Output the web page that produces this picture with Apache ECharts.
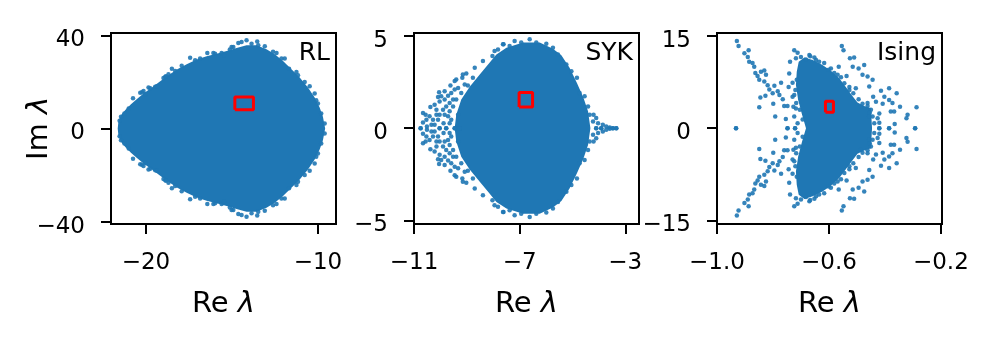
<!DOCTYPE html>
<html><head><meta charset="utf-8">
<style>html,body{margin:0;padding:0;background:#fff}#c{width:998px;height:345px}</style>
<script src="https://cdn.jsdelivr.net/npm/echarts@6/dist/echarts.min.js"></script>
</head><body><div id="c"></div>
<script>
// Values. Spectra are mirror-symmetric in Im, so upper halves are listed.
const panelNames = ['RL','SYK','Ising'];
const xTicks = [[-20,-10],[-11,-7,-3],[-1,-0.6,-0.2]];
const xTickLabels = [['−20','−10'],['−11','−7','−3'],['−1.0','−0.6','−0.2']];
const yTicks = [[-40,0,40],[-5,0,5],[-15,0,15]];
const yTickLabels = [['−40','0','40'],['−5','0','5'],['−15','0','15']];

// dense core outlines [Re, Im]
const rlCore = [[-21.64,0],[-21.6,2.9],[-21.45,5.7],[-21.2,7.9],[-20.87,10.4],[-20.52,12.7],[-20.14,15],[-19.65,17.6],[-19.17,20.3],[-18.69,22.9],[-18.2,25.3],[-17.63,27.6],[-17.05,29.6],[-16.47,31],[-15.89,32.1],[-15.31,33.3],[-14.73,34.6],[-14.15,35.7],[-13.57,35.7],[-12.99,34],[-12.51,31.9],[-12.03,29],[-11.54,25.4],[-11.06,21.9],[-10.58,17.6],[-10.19,13.3],[-9.9,9],[-9.71,5],[-9.58,0]];
const sykCore = [[-9.46,0],[-9.4,0.73],[-9.21,1.55],[-8.89,2.24],[-8.51,2.91],[-8.14,3.55],[-7.88,4],[-7.5,4.36],[-6.87,4.64],[-6.24,4.64],[-5.74,4.31],[-5.42,3.95],[-5.11,3.27],[-4.83,2.45],[-4.58,1.64],[-4.41,0.91],[-4.32,0]];
const isingCore = [[-0.682,0],[-0.696,2.17],[-0.71,4.6],[-0.718,7.04],[-0.715,9.2],[-0.708,10.83],[-0.688,11.53],[-0.658,11.1],[-0.623,10.29],[-0.593,9.37],[-0.563,8.12],[-0.539,6.66],[-0.519,5.41],[-0.498,4.17],[-0.474,3.63],[-0.45,3.25],[-0.446,0]];

// individually visible points [Re, Im]
const rlPoints = [[-21.53,3.3],[-21.45,5],[-21.25,6.4],[-21,8.6],[-20.75,13],[-20.23,15.6],[-20.04,14.7],[-19.75,17.3],[-19.46,17.9],[-18.88,22.1],[-18.49,25.7],[-18.69,23.3],[-17.92,26.9],[-17.43,30.4],[-17.14,29.3],[-16.43,32.4],[-15.98,32.1],[-15.6,32.4],[-15.12,33.9],[-14.92,35],[-14.44,37.1],[-14.15,37.9],[-13.53,37.3],[-13.09,35.3],[-12.61,32.9],[-12.12,30],[-11.68,25.7],[-11.16,22.9],[-10.48,18.1],[-10.1,12.1],[-9.81,6.4],[-9.61,2.1],[-20.33,15.3],[-20.14,16.1],[-19.85,17.6],[-19.36,18.1],[-18.98,21.7],[-18.84,22.4],[-18.3,24.7],[-16.85,30],[-16.08,32.4],[-15.46,31.4],[-15.02,35],[-14.63,36.7],[-13.86,36.4],[-13.47,35.7],[-12.41,32.4],[-11.93,30],[-11.25,24.3],[-10.77,20],[-10.19,15],[-10,10.7]];
const sykPoints = [[-10.75,0],[-10.66,0.82],[-10.66,0.31],[-10.38,1.15],[-10.22,1.27],[-10.05,1.95],[-10.09,1.69],[-10.03,1.45],[-9.84,1.55],[-9.71,1.76],[-9.62,2.31],[-9.4,2.64],[-9.17,2.73],[-9.02,2.96],[-8.7,3.27],[-8.39,3.64],[-8.03,3.91],[-7.95,4.18],[-7.61,4.55],[-7.19,4.73],[-6.62,4.82],[-5.99,4.58],[-5.55,4],[-4.83,2.73],[-4.54,1.73],[-10.53,0.45],[-10.41,0.64],[-10.03,0.73],[-9.9,1],[-10.34,0.18],[-10.03,0],[-9.71,0.64],[-9.52,1.18],[-9.65,0.27],[-9.4,1.55],[-9.21,1.91],[-8.96,2.31],[-8.77,2.73],[-9.46,2.09],[-9.78,1.18],[-9.33,0.73],[-9.27,0],[-9.46,0],[-10.28,0.45],[-4.2,0.73],[-4.1,0.55],[-4.22,0.36],[-4.03,0.27],[-3.85,0.18],[-4.1,0],[-3.91,0],[-3.72,0.09],[-3.59,0.04],[-3.47,0],[-3.34,0],[-10.56,0.73],[-10.15,1],[-10.15,0.73],[-9.84,0.73],[-9.65,0.91],[-10.51,0.09],[-10.22,0.18],[-9.88,0.27],[-10.09,0.45],[-9.78,0],[-9.59,0.45],[-9.52,1.55],[-9.65,1.36],[-9.59,1.91],[-9.33,2.18],[-9.08,2.36],[-9.15,2.91],[-9.46,2.55],[-9.84,2],[-9.97,1.73],[-7.82,4.27],[-7.63,4.55],[-7.38,4.45],[-6.94,4.64],[-6.37,4.64],[-5.74,4.36],[-5.23,3.45],[-5.04,3.09],[-4.73,1.91],[-4.41,1.18],[-4.35,0.73]];
const isingPoints = [[-0.929,14.2],[-0.923,13.4],[-0.902,12.2],[-0.887,12.7],[-0.89,11.6],[-0.885,10.8],[-0.873,10.6],[-0.867,10],[-0.863,9],[-0.855,8.5],[-0.843,9.2],[-0.831,9.4],[-0.825,8.7],[-0.849,7.9],[-0.831,7.6],[-0.819,7],[-0.813,6.3],[-0.795,6.9],[-0.771,7.4],[-0.801,5.7],[-0.783,6],[-0.777,5.4],[-0.765,4.7],[-0.76,3.6],[-0.748,3.6],[-0.845,5],[-0.827,5.3],[-0.849,3.4],[-0.799,4],[-0.792,1.9],[-0.754,1.5],[-0.748,0],[-0.932,0],[-0.724,12.7],[-0.712,12.3],[-0.739,10.8],[-0.718,11.4],[-0.7,11.6],[-0.742,8.9],[-0.73,7.4],[-0.744,6.7],[-0.724,5.4],[-0.718,3.2],[-0.724,1.9],[-0.721,0],[-0.712,0.8],[-0.667,11.7],[-0.646,11.1],[-0.601,9.5],[-0.565,10],[-0.569,8.7],[-0.537,8.5],[-0.527,6.2],[-0.504,6.5],[-0.554,13.4],[-0.548,12.7],[-0.525,11.4],[-0.51,11.5],[-0.515,10],[-0.494,9.7],[-0.474,10.3],[-0.48,8.7],[-0.462,8.4],[-0.444,7.9],[-0.456,6.8],[-0.414,6.1],[-0.442,5.1],[-0.432,4.3],[-0.402,5.1],[-0.385,6.5],[-0.358,5.7],[-0.385,4.6],[-0.373,4.1],[-0.346,3.5],[-0.379,2.7],[-0.367,2.7],[-0.408,4],[-0.486,3.5],[-0.462,4.1],[-0.45,3],[-0.42,2.4],[-0.42,0.9],[-0.365,0.7],[-0.385,0],[-0.319,2.2],[-0.323,1.6],[-0.287,3.4],[-0.292,0],[-0.42,0],[-0.438,0.8],[-0.456,1.9],[-0.426,1.6],[-0.682,11.2],[-0.67,11.9],[-0.652,11.5],[-0.635,10.8],[-0.617,10.6],[-0.593,9.7],[-0.581,9],[-0.557,8.3],[-0.545,7.3],[-0.527,6.7],[-0.513,5.7],[-0.494,4.7],[-0.48,4],[-0.462,3.6],[-0.454,2.5],[-0.444,1.9],[-0.715,7.9],[-0.72,6.2],[-0.717,4.1],[-0.704,3],[-0.694,1.4],[-0.727,3.5],[-0.73,5.1]];

// red boxes [Re min, Re max, Im min, Im max]
const redBoxes = [[-14.83,-13.75,8,13.5],[-7.02,-6.51,1.14,1.93],[-0.6125,-0.584,2.58,4.37]];

const coreOutlines = [rlCore,sykCore,isingCore];
const pointLists = [rlPoints,sykPoints,isingPoints];
const xRanges = [[-22.03,-8.95],[-11,-2.48],[-1,-0.196]];
const yRanges = [[-41,41],[-5.2,5.16],[-15.6,15.5]];
const lefts = [111,414,717];
const blue = '#1f77b4';
const font = 'DejaVu Sans';

const mirror = a => a.concat(a.map(p => [p[0], -p[1]]));
const outline = a => a.concat(a.slice().reverse().map(p => [p[0], -p[1]]));
const nameStyle = {rich:{a:{fontFamily:font,fontSize:29,color:'#000'},b:{fontFamily:font,fontStyle:'italic',fontSize:29,color:'#000'}}};

const grid=[],xAxis=[],yAxis=[],series=[],graphic=[];
panelNames.forEach((name,i)=>{
  grid.push({left:lefts[i],top:33,width:225,height:191,show:true,borderColor:'#000',borderWidth:2,backgroundColor:'#fff'});
  const lab = (ticks,labels,margin,extra)=>Object.assign({customValues:ticks,fontFamily:font,fontSize:23,color:'#000',margin,
    formatter:v=>labels[ticks.findIndex(t=>Math.abs(t-v)<1e-9)]},extra);
  xAxis.push({type:'value',gridIndex:i,min:xRanges[i][0],max:xRanges[i][1],
    name:'{a|Re }{b|λ}',nameLocation:'middle',nameGap:66,nameTextStyle:nameStyle,
    splitLine:{show:false},axisLine:{show:false,onZero:false},
    axisTick:{show:true,customValues:xTicks[i],length:10,lineStyle:{width:2,color:'#000'}},
    axisLabel:lab(xTicks[i],xTickLabels[i],28,{})});
  yAxis.push(Object.assign({type:'value',gridIndex:i,min:yRanges[i][0],max:yRanges[i][1],
    splitLine:{show:false},axisLine:{show:false,onZero:false},
    axisTick:{show:true,customValues:yTicks[i],length:10,lineStyle:{width:2,color:'#000'}},
    axisLabel:lab(yTicks[i],yTickLabels[i],26,{verticalAlign:'top',lineHeight:10})},
    i===0?{name:'{a|Im }{b|λ}',nameLocation:'middle',nameGap:57,nameRotate:90,nameMoveOverlap:false,nameTextStyle:nameStyle}:{}));
  const poly = outline(coreOutlines[i]);
  series.push({type:'custom',coordinateSystem:'cartesian2d',xAxisIndex:i,yAxisIndex:i,data:poly,silent:true,z:2,
    encode:{x:0,y:1},
    renderItem:(params,api)=>params.dataIndex===0?{type:'polygon',shape:{points:poly.map(p=>api.coord(p))},style:{fill:blue}}:null});
  series.push({type:'scatter',xAxisIndex:i,yAxisIndex:i,data:mirror(pointLists[i]),symbolSize:4.5,z:3,silent:true,
    itemStyle:{color:blue,opacity:0.9}});
  const b = redBoxes[i];
  series.push({type:'line',xAxisIndex:i,yAxisIndex:i,z:5,silent:true,showSymbol:false,symbol:'none',
    data:[[b[0],b[2]],[b[1],b[2]],[b[1],b[3]],[b[0],b[3]],[b[0],b[2]]],
    lineStyle:{color:'#ff0000',width:3}});
  graphic.push({type:'text',right:998-(lefts[i]+225-6),top:41,z:10,
    style:{text:name,fontFamily:font,fontSize:25,fill:'#000'}});
});
const chart = echarts.init(document.getElementById('c'),null,{renderer:'canvas'});
chart.setOption({animation:false,backgroundColor:'#fff',grid,xAxis,yAxis,series,graphic});
</script></body></html>
